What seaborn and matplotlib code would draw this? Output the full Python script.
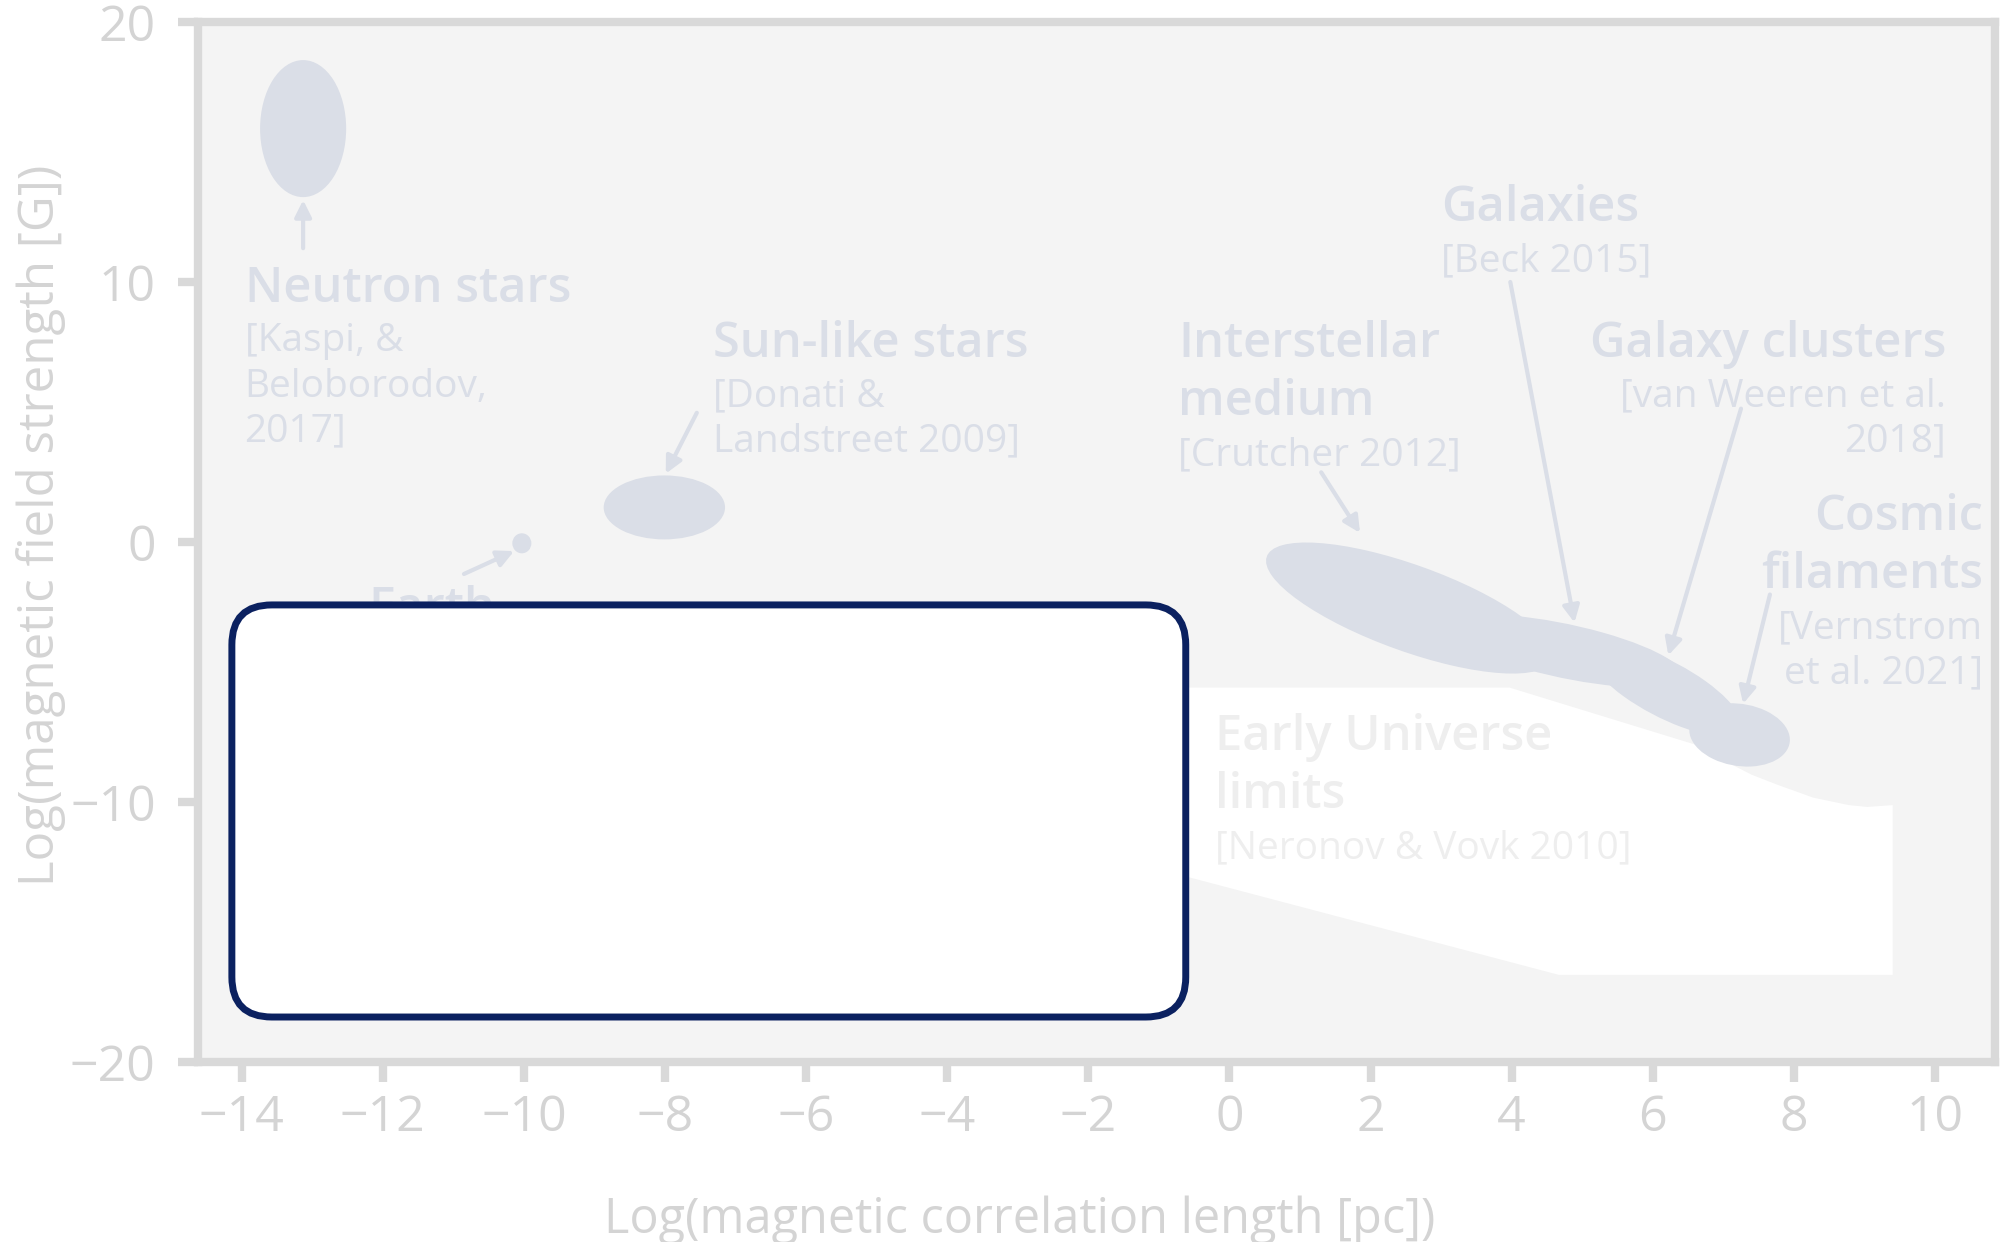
import matplotlib
matplotlib.use("Agg")
import matplotlib.pyplot as plt
import seaborn as sns
from matplotlib.patches import Ellipse, FancyBboxPatch

# ---------------- data (log10 units) ----------------
# magnetised objects: centre, extent and tilt of each ellipse
obj_x = [-13.13, -10.03, -8.01, 2.55, 4.75, 6.17, 7.23]
obj_y = [15.9, -0.05, 1.33, -2.54, -4.19, -5.65, -7.42]
obj_w = [1.22, 0.27, 1.72, 6.03, 3.97, 4.00, 2.45]
obj_h = [5.27, 0.77, 2.46, 2.36, 1.78, 1.30, 1.40]
obj_angle = [0, 0, 0, -53.4, -37.4, -62.8, -82.3]

# early universe limits band (Neronov & Vovk 2010)
limit_x = [-1.0, 3.97, 6.67, 7.04, 7.4, 7.75, 8.27, 8.78, 9.04, 9.4, 9.4, 4.67, -1.0]
limit_y = [-5.6, -5.6, -7.85, -8.45, -8.95, -9.32, -9.83, -10.12, -10.19, -10.12, -16.65, -16.65, -12.59]

# labels
label_titles = [["Neutron stars"], ["Earth"], ["Sun-like stars"], ["Interstellar", "medium"],
                ["Galaxies"], ["Galaxy clusters"], ["Cosmic", "filaments"]]
label_refs = [["[Kaspi, &", "Beloborodov,", "2017]"], [], ["[Donati &", "Landstreet 2009]"],
              ["[Crutcher 2012]"], ["[Beck 2015]"], ["[van Weeren et al.", "2018]"],
              ["[Vernstrom", "et al. 2021]"]]
label_x = [-13.96, -12.2, -7.32, -0.73, 3.0, 10.16, 10.68]
label_y = [9.25, -3.06, 7.13, 7.12, 12.33, 7.12, 0.46]
label_ha = ["left", "left", "left", "left", "left", "right", "right"]

limit_title = ["Early Universe", "limits"]
limit_ref = ["[Neronov & Vovk 2010]"]
limit_label_x = -0.2
limit_label_y = -8.0

# arrows: from (x0, y0) to (x1, y1)
arrow_x0 = [-13.13, -10.85, -7.55, 1.30, 3.98, 7.25, 7.66]
arrow_y0 = [11.3, -1.23, 4.97, 2.68, 10.0, 5.13, -2.02]
arrow_x1 = [-13.13, -10.14, -7.99, 1.85, 4.89, 6.22, 7.28]
arrow_y1 = [13.15, -0.35, 2.63, 0.35, -3.1, -4.36, -6.22]

x_ticks = [-14, -12, -10, -8, -6, -4, -2, 0, 2, 4, 6, 8, 10]
y_ticks = [-20, -10, 0, 10, 20]

# ---------------- style ----------------
sns.set_theme(style="ticks")
plt.rcParams['font.family'] = ['Open Sans', 'DejaVu Sans']

grey = '#d9d9d9'
text_grey = '#d4d4d4'
blob = '#dadee7'
faint = '#eeeeee'

fig = plt.figure(figsize=(20.1, 12.42), dpi=100)
ax = fig.add_axes([198 / 2010, 1 - 1062 / 1242, (1995 - 198) / 2010, (1062 - 22) / 1242])
ax.set_facecolor('#f4f4f4')
ax.set_xlim(-14.62, 10.85)
ax.set_ylim(-20, 20)

for s in ax.spines.values():
    s.set_color(grey)
    s.set_linewidth(6)

ax.set_xticks(x_ticks)
ax.set_yticks(y_ticks)
ax.tick_params(axis='both', colors=grey, width=6, length=14.5, labelsize=36,
               labelcolor=text_grey)
ax.tick_params(axis='x', pad=8)
ax.tick_params(axis='y', pad=16)

ax.set_xlabel("Log(magnetic correlation length [pc])", fontsize=35, color=text_grey)
ax.set_ylabel("Log(magnetic field strength [G])", fontsize=35.5, color=text_grey)
ax.xaxis.label.set_va('baseline')
ax.xaxis.set_label_coords(0.457, -0.164)
ax.yaxis.label.set_va('baseline')
ax.yaxis.set_label_coords(-0.080, 0.516)

# early universe band
ax.fill(limit_x, limit_y, color='white', lw=0, zorder=1)

# objects
for cx, cy, w, h, a in zip(obj_x, obj_y, obj_w, obj_h, obj_angle):
    ax.add_patch(Ellipse((cx, cy), w, h, angle=a, facecolor=blob, edgecolor='none', zorder=2))

# arrows
for x0, y0, x1, y1 in zip(arrow_x0, arrow_y0, arrow_x1, arrow_y1):
    ax.annotate('', xy=(x1, y1), xytext=(x0, y0),
                arrowprops=dict(arrowstyle='-|>', color=blob, lw=3, mutation_scale=25,
                                shrinkA=0, shrinkB=0), zorder=3)


def put_label(x, y, titles, refs, ha, color):
    off = 0
    for t in titles:
        ax.annotate(t, xy=(x, y), xytext=(0, -off), textcoords='offset points', ha=ha,
                    va='baseline', fontsize=35.2, fontweight='semibold', color=color, zorder=3)
        off += 42
    off += -42 + 36
    for r in refs:
        ax.annotate(r, xy=(x, y), xytext=(0, -off), textcoords='offset points', ha=ha,
                    va='baseline', fontsize=28, color=color, zorder=3)
        off += 32.4


for x, y, t, r, ha in zip(label_x, label_y, label_titles, label_refs, label_ha):
    put_label(x, y, t, r, ha, blob)
put_label(limit_label_x, limit_label_y, limit_title, limit_ref, 'left', faint)

# blank panel over the lower left
panel = FancyBboxPatch((-14.14, -18.27), 13.52, 15.85,
                       boxstyle="round,pad=0,rounding_size=0.567", mutation_aspect=2.71,
                       facecolor='white', edgecolor='#0b2160', lw=5, zorder=10)
ax.add_patch(panel)

fig.savefig("out.png", dpi=100, facecolor='white')
